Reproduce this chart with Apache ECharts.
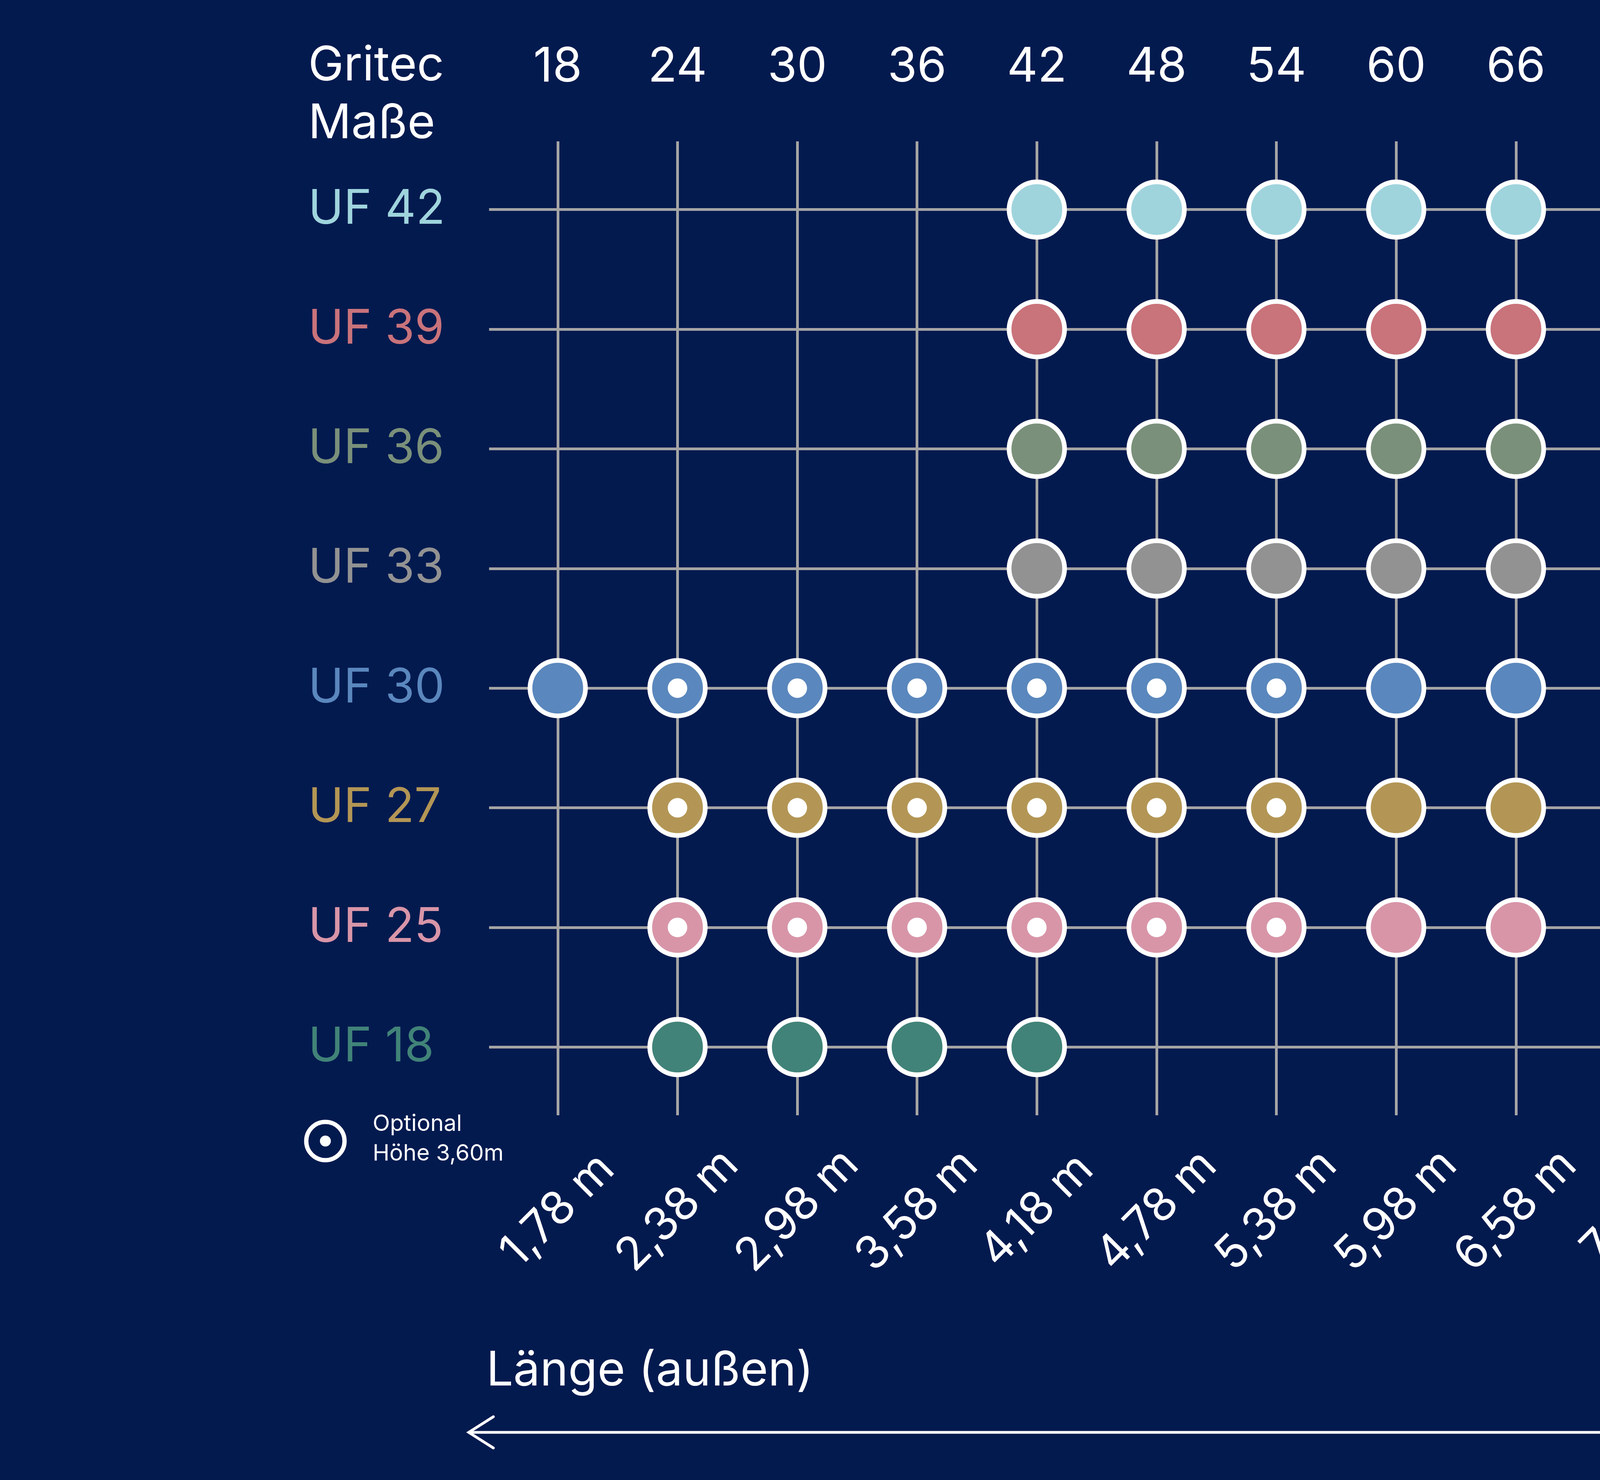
<!DOCTYPE html>
<html>
<head>
<meta charset="utf-8">
<title>Gritec Maße</title>
<script src="https://cdn.jsdelivr.net/npm/echarts@6.0.0/dist/echarts.min.js"></script>
<style>
html, body { margin: 0; padding: 0; background: #031a4f; }
#chart { width: 8000px; height: 3790px; }
</style>
</head>
<body>
<div id="chart"></div>
<script>
// Gritec Maße (Spalten) und Länge außen
const cols = [18, 24, 30, 36, 42, 48, 54, 60, 66, 72, 78, 84, 90, 96, 102, 108];
const lengths = ['1,78 m', '2,38 m', '2,98 m', '3,58 m', '4,18 m', '4,78 m', '5,38 m', '5,98 m',
    '6,58 m', '7,18 m', '7,78 m', '8,38 m', '8,98 m', '9,58 m', '10,18 m', '10,78 m'];

// Zeilen von unten nach oben, mit Breite außen
const rows = ['UF 18', 'UF 25', 'UF 27', 'UF 30', 'UF 33', 'UF 36', 'UF 39', 'UF 42'];
const widths = ['1,78 m', '2,50 m', '2,70 m', '3,02 m', '3,32 m', '6,62 m', '3,92 m', '4,22 m'];
const rowColors = ['#418378', '#d895a8', '#b39655', '#5a87bd', '#929292', '#7a907a', '#c9737b', '#9fd4dd'];

// verfügbare Maße je Zeile
const uf18 = [24, 30, 36, 42];
const uf25 = [24, 30, 36, 42, 48, 54, 60, 66];
const uf27 = [24, 30, 36, 42, 48, 54, 60, 66];
const uf30 = [18, 24, 30, 36, 42, 48, 54, 60, 66, 72, 78, 84, 90, 96, 102, 108];
const uf33 = [42, 48, 54, 60, 66, 72, 78, 84, 90, 96];
const uf36 = [42, 48, 54, 60, 66, 72, 78, 84, 90, 96];
const uf39 = [42, 48, 54, 60, 66, 72, 78, 84, 90, 96];
const uf42 = [42, 48, 54, 60, 66, 72, 78, 84, 90, 96];
const available = [uf18, uf25, uf27, uf30, uf33, uf36, uf39, uf42];

// optional Höhe 3,60m
const opt25 = [24, 30, 36, 42, 48, 54];
const opt27 = [24, 30, 36, 42, 48, 54];
const opt30 = [24, 30, 36, 42, 48, 54];
const optional = [[], opt25, opt27, opt30, [], [], [], []];

const rowIdx = rows.map((r, i) => i);
const FONT = 'Inter, "Noto Sans", sans-serif';
const GRID = '#a5a5a5';

let rich = {};
rowColors.forEach((c, i) => {
    rich['r' + i] = {color: c, fontSize: 122, fontFamily: FONT};
});

let series = [];
available.forEach((list, i) => {
    series.push({
        type: 'scatter',
        name: rows[i],
        data: list.map(c => [c, i]),
        symbol: 'circle',
        symbolSize: 142,
        itemStyle: {color: rowColors[i], borderColor: '#ffffff', borderWidth: 12, opacity: 1},
        z: 3,
        silent: true
    });
});
let optData = [];
optional.forEach((list, i) => {
    list.forEach(c => optData.push([c, i]));
});
series.push({
    type: 'scatter',
    name: 'Optional',
    data: optData,
    symbol: 'circle',
    symbolSize: 50,
    itemStyle: {color: '#ffffff', opacity: 1},
    z: 4,
    silent: true
});

let chart = echarts.init(document.getElementById('chart'));
chart.setOption({
    backgroundColor: '#031a4f',
    animation: false,
    textStyle: {fontFamily: FONT},
    grid: {left: 1252, right: 1797, top: 362, bottom: 934, containLabel: false, outerBoundsMode: 'none'},
    xAxis: [{
        type: 'value',
        position: 'top',
        min: 14.56,
        max: 111.44,
        axisLine: {show: false},
        axisTick: {show: false, customValues: cols},
        axisLabel: {
            customValues: cols,
            color: '#ffffff',
            fontSize: 122,
            fontFamily: FONT,
            margin: 129,
            formatter: v => String(v)
        },
        splitLine: {show: true, lineStyle: {color: GRID, width: 7}}
    }, {
        type: 'value',
        position: 'bottom',
        min: 14.56,
        max: 111.44,
        axisLine: {show: false},
        axisTick: {show: false, customValues: cols},
        axisLabel: {
            customValues: cols,
            color: '#ffffff',
            fontSize: 118,
            fontFamily: FONT,
            rotate: 45,
            align: 'center',
            verticalAlign: 'middle',
            margin: 244,
            formatter: v => lengths[cols.indexOf(v)]
        },
        splitLine: {show: false}
    }],
    yAxis: [{
        type: 'value',
        position: 'left',
        min: -0.57,
        max: 7.57,
        axisLine: {show: false},
        axisTick: {show: false, customValues: rowIdx},
        axisLabel: {
            customValues: rowIdx,
            align: 'left',
            margin: 463,
            rich: rich,
            formatter: v => '{r' + v + '|' + rows[v] + '}'
        },
        splitLine: {show: true, lineStyle: {color: GRID, width: 7}}
    }, {
        type: 'value',
        position: 'right',
        min: -0.57,
        max: 7.57,
        axisLine: {show: false},
        axisTick: {show: false, customValues: rowIdx},
        axisLabel: {
            customValues: rowIdx,
            align: 'left',
            margin: 134,
            color: '#ffffff',
            fontSize: 122,
            fontFamily: FONT,
            formatter: v => widths[v]
        },
        splitLine: {show: false}
    }],
    graphic: [
        {type: 'text', left: 789, top: 108, style: {text: 'Gritec', fill: '#ffffff', font: '122px ' + FONT}},
        {type: 'text', left: 789, top: 256, style: {text: 'Maße', fill: '#ffffff', font: '122px ' + FONT}},
        // Legende optional
        {type: 'circle', shape: {cx: 833, cy: 2922, r: 49}, style: {fill: 'none', stroke: '#ffffff', lineWidth: 11}},
        {type: 'circle', shape: {cx: 833, cy: 2922, r: 14}, style: {fill: '#ffffff'}},
        {type: 'text', left: 954, top: 2850, style: {text: 'Optional', fill: '#ffffff', font: '58px ' + FONT}},
        {type: 'text', left: 954, top: 2926, style: {text: 'Höhe 3,60m', fill: '#ffffff', font: '58px ' + FONT}},
        // Länge
        {type: 'text', left: 1245, top: 3450, style: {text: 'Länge (außen)', fill: '#ffffff', font: '122px ' + FONT}},
        {type: 'line', shape: {x1: 1200, y1: 3668, x2: 6200, y2: 3668}, style: {stroke: '#ffffff', lineWidth: 7}},
        {type: 'polyline', shape: {points: [[1263, 3628], [1200, 3668], [1263, 3708]]}, style: {stroke: '#ffffff', lineWidth: 7, fill: 'none', lineCap: 'round'}},
        {type: 'polyline', shape: {points: [[6137, 3628], [6200, 3668], [6137, 3708]]}, style: {stroke: '#ffffff', lineWidth: 7, fill: 'none', lineCap: 'round'}},
        // Breite
        {type: 'line', shape: {x1: 6939, y1: 474, x2: 6939, y2: 2724}, style: {stroke: '#ffffff', lineWidth: 7}},
        {type: 'polyline', shape: {points: [[6899, 540], [6939, 474], [6979, 540]]}, style: {stroke: '#ffffff', lineWidth: 7, fill: 'none', lineCap: 'round'}},
        {type: 'polyline', shape: {points: [[6899, 2658], [6939, 2724], [6979, 2658]]}, style: {stroke: '#ffffff', lineWidth: 7, fill: 'none', lineCap: 'round'}},
        {
            type: 'text', x: 7154, y: 1601, rotation: Math.PI / 2,
            style: {text: 'Breite (außen)', fill: '#ffffff', font: '124px ' + FONT, align: 'center', verticalAlign: 'middle'}
        }
    ],
    series: series
});
</script>
</body>
</html>
